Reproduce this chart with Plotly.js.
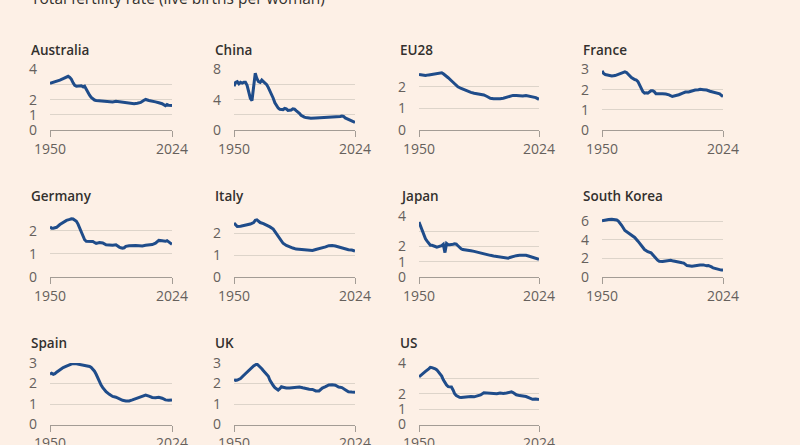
<!DOCTYPE html>
<html>
<head>
<meta charset="utf-8">
<script src="https://cdn.plot.ly/plotly-3.0.1.min.js"></script>
<style>
  html, body { margin: 0; padding: 0; background: #fdf0e6; }
  #chart { width: 800px; height: 445px; }
</style>
</head>
<body>
<div id="chart"></div>
<script>
// ---------------- DATA ----------------
const chartTitle = 'Total fertility rate (live births per woman)';
const countries = ['Australia', 'China', 'EU28', 'France', 'Germany', 'Italy', 'Japan', 'South Korea', 'Spain', 'UK', 'US'];
const xTickVals = [1950, 2024];
const xTickText = ['1950', '2024'];

const australiaYears = [1950,1952,1954,1956,1958,1960,1961,1962,1963,1964,1965,1966,1968,1969,1970,1971,1972,1973,1974,1975,1976,1977,1978,1980,1982,1984,1986,1988,1990,1992,1994,1996,1998,2000,2001,2003,2005,2007,2008,2010,2012,2014,2016,2018,2020,2021,2022,2024];
const australiaTFR   = [3.08,3.15,3.2,3.3,3.4,3.5,3.55,3.48,3.35,3.12,2.95,2.9,2.9,2.92,2.85,2.9,2.7,2.45,2.3,2.15,2.05,1.98,1.95,1.92,1.92,1.88,1.88,1.85,1.9,1.88,1.85,1.82,1.78,1.76,1.74,1.77,1.82,1.97,2.02,1.95,1.92,1.86,1.8,1.74,1.6,1.68,1.63,1.62];

const chinaYears = [1950,1951,1952,1953,1954,1955,1956,1957,1958,1959,1960,1961,1962,1963,1964,1965,1966,1967,1968,1969,1970,1971,1972,1973,1974,1975,1976,1977,1978,1979,1980,1981,1982,1983,1984,1985,1986,1987,1988,1989,1990,1991,1992,1993,1994,1995,1997,2000,2003,2006,2009,2012,2015,2016,2017,2018,2019,2020,2021,2022,2023,2024];
const chinaTFR   = [5.8,6.3,6.4,6.1,6.3,6.2,6.3,6.3,5.9,4.8,4.2,3.9,5.8,7.5,6.8,6.4,6.3,6.6,6.4,6.2,6.0,5.6,5.2,4.7,4.2,3.6,3.2,2.9,2.75,2.75,2.7,2.85,2.8,2.6,2.6,2.65,2.8,2.75,2.55,2.4,2.2,1.95,1.8,1.7,1.65,1.6,1.55,1.6,1.62,1.65,1.7,1.75,1.78,1.85,1.8,1.6,1.5,1.35,1.2,1.1,1.02,1.0];

const eu28Years = [1950,1952,1954,1956,1958,1960,1962,1964,1965,1966,1968,1970,1972,1974,1976,1978,1980,1982,1984,1986,1988,1990,1992,1994,1996,1998,2000,2002,2004,2006,2008,2010,2012,2014,2016,2018,2020,2022,2024];
const eu28TFR   = [2.57,2.53,2.52,2.55,2.57,2.58,2.6,2.65,2.6,2.55,2.42,2.28,2.12,2.0,1.92,1.85,1.8,1.74,1.7,1.67,1.66,1.62,1.55,1.47,1.45,1.44,1.45,1.47,1.52,1.55,1.6,1.6,1.58,1.57,1.6,1.56,1.52,1.5,1.42];

const franceYears = [1950,1951,1952,1954,1956,1958,1960,1962,1964,1965,1966,1968,1970,1971,1972,1973,1974,1975,1976,1977,1978,1979,1980,1981,1982,1983,1985,1987,1989,1991,1993,1995,1997,1999,2001,2003,2005,2007,2009,2010,2012,2014,2016,2018,2020,2022,2023,2024];
const franceTFR   = [2.93,2.8,2.75,2.72,2.68,2.7,2.75,2.8,2.88,2.85,2.75,2.6,2.5,2.48,2.4,2.25,2.05,1.9,1.83,1.85,1.83,1.88,1.95,1.95,1.9,1.8,1.81,1.8,1.78,1.74,1.66,1.7,1.75,1.82,1.88,1.89,1.94,1.98,2.0,2.02,2.0,1.98,1.92,1.88,1.83,1.79,1.72,1.66];

const germanyYears = [1950,1951,1952,1954,1956,1958,1960,1962,1963,1964,1965,1966,1967,1968,1969,1970,1971,1972,1974,1976,1977,1978,1980,1982,1984,1986,1988,1990,1991,1992,1993,1994,1995,1996,1998,2000,2002,2004,2006,2008,2010,2012,2014,2016,2018,2020,2021,2022,2023,2024];
const germanyTFR   = [2.18,2.12,2.12,2.16,2.28,2.38,2.46,2.5,2.53,2.52,2.48,2.42,2.3,2.12,1.95,1.78,1.62,1.55,1.55,1.54,1.5,1.46,1.5,1.48,1.4,1.38,1.38,1.4,1.33,1.3,1.27,1.25,1.27,1.33,1.36,1.38,1.37,1.36,1.35,1.38,1.39,1.41,1.47,1.59,1.57,1.55,1.58,1.52,1.44,1.42];

const italyYears = [1950,1951,1952,1954,1956,1958,1960,1962,1963,1964,1965,1966,1968,1970,1972,1974,1975,1976,1977,1978,1980,1982,1984,1986,1988,1990,1992,1994,1996,1998,2000,2002,2004,2006,2008,2010,2012,2014,2016,2018,2020,2022,2024];
const italyTFR   = [2.48,2.38,2.32,2.33,2.36,2.4,2.43,2.5,2.6,2.62,2.55,2.5,2.45,2.38,2.3,2.2,2.1,1.95,1.85,1.75,1.55,1.45,1.38,1.33,1.28,1.27,1.25,1.22,1.21,1.22,1.26,1.29,1.34,1.38,1.44,1.45,1.42,1.37,1.33,1.29,1.25,1.24,1.19];

const japanYears = [1950,1951,1952,1953,1954,1955,1956,1957,1958,1959,1960,1961,1962,1963,1964,1965,1966,1967,1968,1969,1970,1971,1972,1973,1974,1975,1976,1977,1978,1979,1980,1982,1984,1986,1988,1990,1992,1994,1996,1998,2000,2002,2004,2005,2006,2008,2010,2012,2014,2015,2016,2018,2019,2020,2022,2023,2024];
const japanTFR   = [3.6,3.3,3.0,2.75,2.5,2.35,2.22,2.08,2.08,2.02,2.0,1.96,1.98,2.0,2.05,2.14,1.6,2.2,2.12,2.12,2.12,2.15,2.18,2.15,2.05,1.91,1.85,1.8,1.79,1.77,1.75,1.72,1.68,1.62,1.57,1.52,1.46,1.42,1.38,1.35,1.32,1.28,1.24,1.23,1.28,1.36,1.4,1.42,1.44,1.45,1.42,1.36,1.33,1.3,1.24,1.18,1.16];

const southKoreaYears = [1950,1952,1954,1956,1958,1959,1960,1961,1962,1964,1965,1966,1968,1970,1972,1974,1976,1978,1980,1982,1983,1984,1985,1986,1987,1988,1990,1991,1992,1993,1995,1997,1999,2000,2001,2002,2003,2005,2007,2009,2010,2012,2013,2014,2015,2016,2017,2018,2019,2020,2021,2022,2023,2024];
const southKoreaTFR   = [6.05,6.15,6.18,6.2,6.18,6.12,6.0,5.8,5.55,5.0,4.88,4.75,4.5,4.25,3.85,3.4,2.95,2.72,2.6,2.2,1.95,1.8,1.68,1.64,1.67,1.7,1.78,1.84,1.8,1.75,1.7,1.62,1.52,1.49,1.35,1.22,1.2,1.15,1.2,1.2,1.28,1.3,1.25,1.2,1.24,1.18,1.08,0.97,0.92,0.85,0.81,0.78,0.74,0.75];

const spainYears = [1950,1951,1952,1953,1954,1956,1958,1960,1962,1964,1966,1968,1970,1972,1974,1975,1976,1977,1978,1979,1980,1981,1982,1983,1984,1986,1988,1990,1992,1994,1996,1998,2000,2002,2004,2006,2008,2010,2012,2014,2016,2018,2020,2022,2024];
const spainTFR   = [2.45,2.5,2.45,2.48,2.55,2.68,2.78,2.85,2.9,2.98,2.96,2.93,2.9,2.88,2.83,2.78,2.7,2.6,2.45,2.25,2.05,1.92,1.8,1.68,1.6,1.47,1.37,1.33,1.25,1.18,1.15,1.15,1.2,1.26,1.32,1.38,1.44,1.38,1.32,1.3,1.33,1.28,1.2,1.18,1.2];

const ukYears = [1950,1951,1952,1954,1956,1958,1960,1962,1964,1965,1966,1967,1968,1970,1971,1972,1973,1974,1975,1976,1977,1978,1979,1980,1981,1982,1984,1986,1988,1990,1992,1994,1996,1998,2000,2002,2004,2006,2008,2010,2012,2014,2016,2018,2020,2022,2024];
const ukTFR   = [2.2,2.15,2.17,2.24,2.4,2.56,2.72,2.86,2.95,2.88,2.8,2.72,2.62,2.42,2.35,2.15,2.0,1.9,1.8,1.72,1.68,1.75,1.84,1.82,1.8,1.78,1.78,1.8,1.82,1.83,1.79,1.74,1.72,1.71,1.64,1.64,1.78,1.85,1.93,1.94,1.92,1.83,1.8,1.7,1.6,1.58,1.57];

const usYears = [1950,1952,1954,1956,1957,1958,1959,1960,1961,1962,1963,1964,1965,1966,1967,1968,1969,1970,1971,1972,1973,1974,1975,1976,1978,1980,1982,1984,1986,1988,1990,1992,1994,1996,1998,2000,2002,2004,2006,2007,2008,2009,2010,2012,2014,2016,2018,2020,2022,2024];
const usTFR   = [3.1,3.3,3.45,3.62,3.72,3.7,3.68,3.62,3.55,3.4,3.3,3.15,2.9,2.72,2.56,2.46,2.45,2.44,2.25,2.0,1.88,1.82,1.77,1.76,1.78,1.82,1.82,1.8,1.84,1.92,2.06,2.04,2.0,1.98,2.0,2.05,2.02,2.05,2.1,2.12,2.08,2.0,1.93,1.88,1.86,1.82,1.73,1.64,1.66,1.62];

// y-axis tick labels per panel
const yTicksA = [0, 1, 2, 3, 4];   const yLabelsA = ['0', '1', '2', '', '4'];
const yTicksC = [0, 2, 4, 6, 8];   const yLabelsC = ['0', '', '4', '', '8'];
const yTicks2 = [0, 1, 2];         const yLabels2 = ['0', '1', '2'];
const yTicks3 = [0, 1, 2, 3];      const yLabels3 = ['0', '1', '2', '3'];
const yTicksK = [0, 2, 4, 6];      const yLabelsK = ['0', '2', '4', '6'];

// ---------------- PANEL SETUP ----------------
const seriesX = [australiaYears, chinaYears, eu28Years, franceYears, germanyYears, italyYears, japanYears, southKoreaYears, spainYears, ukYears, usYears];
const seriesY = [australiaTFR, chinaTFR, eu28TFR, franceTFR, germanyTFR, italyTFR, japanTFR, southKoreaTFR, spainTFR, ukTFR, usTFR];
const yMax    = [4, 8, 2.8, 3, 2.65, 2.8, 4, 6.55, 3, 3, 4];
const yTicks  = [yTicksA, yTicksC, yTicks2, yTicks3, yTicks2, yTicks2, yTicksA, yTicksK, yTicks3, yTicks3, yTicksA];
const yLabels = [yLabelsA, yLabelsC, yLabels2, yLabels3, yLabels2, yLabels2, yLabelsA, yLabelsK, yLabels3, yLabels3, yLabelsA];

const W = 800, H = 445;
const colX = [[50, 172], [234, 355], [419, 539], [602, 723]];
const rowY = [[69.5, 130], [216, 277], [363, 424.5]];
const titleY = [50, 196, 343];

const FONT = 'Open Sans, Lato, sans-serif';
const tickFont = { family: FONT, size: 14, color: '#66605c' };
const lineColor = '#1f4c8a';
const gridColor = '#ddd4ca';
const axisColor = '#a39c95';

const traces = [];
const layout = {
  width: W, height: H,
  margin: { l: 0, r: 0, t: 0, b: 0 },
  paper_bgcolor: '#fdf0e6',
  plot_bgcolor: '#fdf0e6',
  showlegend: false,
  annotations: [{
    text: chartTitle,
    xref: 'paper', yref: 'paper',
    x: 29 / W, xanchor: 'left',
    y: (H + 2) / H, yanchor: 'middle',
    showarrow: false,
    font: { family: FONT, size: 15.5, color: '#33302e' }
  }]
};

countries.forEach((name, i) => {
  const col = i % 4, row = Math.floor(i / 4);
  const [x0, x1] = colX[col];
  const [y0, y1] = rowY[row];
  const sfx = i === 0 ? '' : String(i + 1);
  traces.push({
    x: seriesX[i], y: seriesY[i],
    type: 'scatter', mode: 'lines',
    xaxis: 'x' + sfx, yaxis: 'y' + sfx,
    line: { color: lineColor, width: 3 },
    hoverinfo: 'skip'
  });
  layout['xaxis' + sfx] = {
    domain: [x0 / W, x1 / W],
    anchor: 'y' + sfx,
    range: [1950, 2024],
    tickmode: 'array', tickvals: xTickVals, ticktext: xTickText,
    ticks: 'outside', ticklen: 6, tickwidth: 1, tickcolor: axisColor,
    showline: true, linecolor: axisColor, linewidth: 1,
    showgrid: false, zeroline: false,
    tickfont: tickFont, automargin: false, fixedrange: true
  };
  layout['yaxis' + sfx] = {
    domain: [(H - y1) / H, (H - y0) / H],
    anchor: 'x' + sfx,
    range: [0, yMax[i]],
    tickmode: 'array', tickvals: yTicks[i], ticktext: yLabels[i],
    ticks: '', ticklabelstandoff: 12,
    showgrid: true, gridcolor: gridColor, gridwidth: 1,
    zeroline: false, showline: false,
    tickfont: tickFont, automargin: false, fixedrange: true
  };
  layout.annotations.push({
    text: name,
    xref: 'paper', yref: 'paper',
    x: (x0 - 21) / W, xanchor: 'left',
    y: (H - titleY[row]) / H, yanchor: 'middle',
    showarrow: false,
    font: { family: FONT, size: 13.5, weight: 600, color: '#33302e' }
  });
});

Plotly.newPlot('chart', traces, layout, { staticPlot: true, displayModeBar: false });
</script>
</body>
</html>
